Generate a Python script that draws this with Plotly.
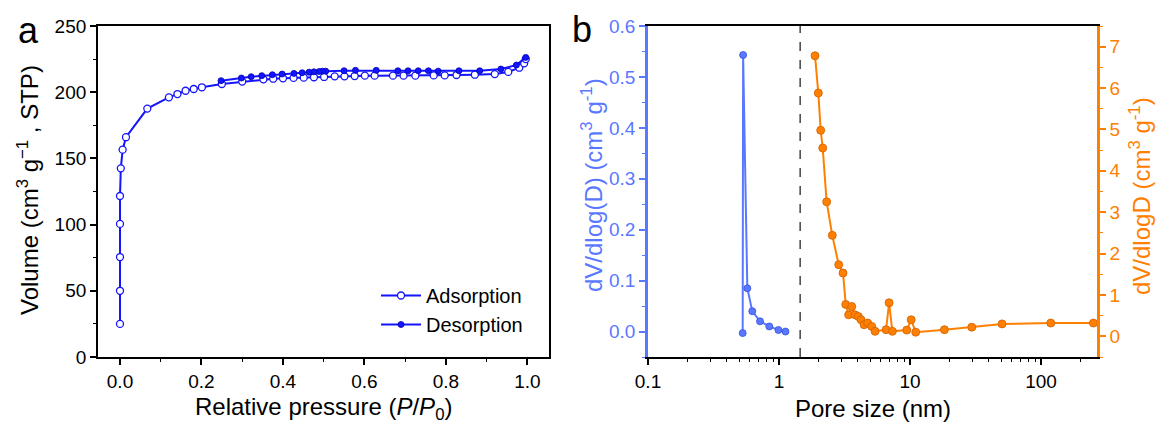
import plotly.graph_objects as go

# ---------------- Panel a: isotherm ----------------
ads_p = [0.0, 0.0, 0.0, 0.0, 0.0, 0.002, 0.0065, 0.0147, 0.067, 0.12, 0.141, 0.161, 0.181,
         0.201, 0.25, 0.30, 0.352, 0.376, 0.40, 0.426, 0.451, 0.476, 0.501, 0.527, 0.551,
         0.576, 0.601, 0.625, 0.67, 0.696, 0.725, 0.77, 0.797, 0.826, 0.871, 0.92, 0.953,
         0.98, 0.992, 0.996]
ads_v = [25, 50, 75.5, 100.5, 121.6, 142.5, 156.6, 166, 187.6, 196.1, 198.6, 201.1, 202.4,
         203.7, 206.2, 208.0, 209.7, 210.2, 210.5, 210.8, 211.0, 211.3, 211.5, 212.0, 212.0,
         212.2, 212.5, 212.5, 212.5, 212.5, 212.5, 212.7, 212.7, 213.0, 213.2, 213.7, 215.3,
         218.5, 221.8, 225.0]
des_p = [0.996, 0.973, 0.935, 0.883, 0.832, 0.781, 0.757, 0.732, 0.707, 0.682, 0.629, 0.578,
         0.55, 0.505, 0.497, 0.489, 0.476, 0.464, 0.447, 0.427, 0.398, 0.374, 0.348, 0.322,
         0.298, 0.248]
des_v = [226.3, 220.5, 217.5, 216.2, 216.2, 215.9, 216.2, 216.2, 216.2, 216.2, 216.5, 216.5,
         216.2, 215.9, 215.9, 215.6, 215.4, 215.1, 214.7, 214.2, 213.7, 213.2, 212.5, 211.7,
         210.7, 208.7]

# ---------------- Panel b: pore size distributions ----------------
micro_d = [0.528, 0.532, 0.573, 0.625, 0.716, 0.843, 0.99, 1.12]
micro_v = [-0.003, 0.543, 0.085, 0.040, 0.020, 0.010, 0.003, 0.000]
meso_d = [1.883, 1.995, 2.08, 2.156, 2.31, 2.55, 2.855, 3.08, 3.23, 3.40, 3.59, 3.80, 4.03,
          4.23, 4.46, 4.75, 5.10, 5.41, 6.56, 6.92, 7.33, 9.44, 10.2, 11.05, 18.3, 29.6,
          50.4, 118.6, 251]
meso_v = [6.78, 5.88, 4.98, 4.55, 3.25, 2.44, 1.73, 1.53, 0.77, 0.52, 0.72, 0.52, 0.48,
          0.40, 0.28, 0.32, 0.24, 0.12, 0.16, 0.81, 0.12, 0.15, 0.40, 0.10, 0.16, 0.22,
          0.30, 0.32, 0.32]
divider_d = [1.45]

BLUE = "#1414ff"
LBLUE = "#5a78ff"
ORANGE = "#ff8000"
FONT = "Liberation Sans, Arial, sans-serif"

W, H = 1159, 429
def px(x):
    return x / W
def py(y):
    return 1 - y / H

TICK = 19
TITLE = 24

fig = go.Figure()

fig.add_trace(go.Scatter(x=ads_p, y=ads_v, mode="lines+markers", name="Adsorption",
                         line=dict(color=BLUE, width=2),
                         marker=dict(symbol="circle", size=7, color="white",
                                     line=dict(color=BLUE, width=1.3)),
                         xaxis="x", yaxis="y"))
fig.add_trace(go.Scatter(x=des_p, y=des_v, mode="lines+markers", name="Desorption",
                         line=dict(color=BLUE, width=2),
                         marker=dict(symbol="circle", size=6, color=BLUE,
                                     line=dict(color="#0000b0", width=0.8)),
                         xaxis="x", yaxis="y"))

fig.add_trace(go.Scatter(x=micro_d, y=micro_v, mode="lines+markers", showlegend=False,
                         line=dict(color=LBLUE, width=2),
                         marker=dict(size=7, color=LBLUE, line=dict(color="#3350e0", width=0.8)),
                         xaxis="x2", yaxis="y3"))
fig.add_trace(go.Scatter(x=meso_d, y=meso_v, mode="lines+markers", showlegend=False,
                         line=dict(color=ORANGE, width=2),
                         marker=dict(size=8, color=ORANGE, line=dict(color="#d06000", width=0.8)),
                         xaxis="x2", yaxis="y4"))

for d in divider_d:
    fig.add_shape(type="line", xref="x2", yref="paper", x0=d, x1=d,
                  y0=py(357), y1=py(26), line=dict(color="#444444", width=1.5, dash="dash"))

tickfont = dict(family=FONT, size=TICK, color="black")
titlefont = dict(family=FONT, size=TITLE, color="black")

dom_y = [py(357), py(26)]

fig.update_layout(
    width=W, height=H, margin=dict(l=0, r=0, t=0, b=0, autoexpand=False),
    paper_bgcolor="white", plot_bgcolor="white",
    font=dict(family=FONT),
    showlegend=True,
    legend=dict(x=px(376), y=py(276), xanchor="left", yanchor="top",
                bgcolor="rgba(0,0,0,0)", font=dict(family=FONT, size=20, color="black"),
                itemwidth=40, tracegroupgap=0),
    xaxis=dict(domain=[px(98), px(549)], range=[-0.054, 1.053], tickvals=[0, 0.2, 0.4, 0.6, 0.8, 1.0],
               ticktext=["0.0", "0.2", "0.4", "0.6", "0.8", "1.0"],
               ticks="outside", ticklen=6, tickwidth=1.5, tickcolor="black",
               minor=dict(ticks="outside", ticklen=3, tickwidth=1.2, tickcolor="black",
                          tickvals=[0.1, 0.3, 0.5, 0.7, 0.9]),
               showline=True, linecolor="black", linewidth=1.8, mirror=True,
               showgrid=False, zeroline=False, tickfont=tickfont, automargin=False,
               anchor="y"),
    yaxis=dict(domain=dom_y, range=[0, 250], dtick=50,
               ticks="outside", ticklen=6, tickwidth=1.5, tickcolor="black",
               minor=dict(ticks="outside", ticklen=3, tickwidth=1.2, tickcolor="black", dtick=25),
               showline=True, linecolor="black", linewidth=1.8, mirror=True,
               showgrid=False, zeroline=False, tickfont=tickfont, automargin=False,
               anchor="x"),
    xaxis2=dict(domain=[px(648), px(1097)], type="log", range=[-1, 2.427],
                tickvals=[0.1, 1, 10, 100], ticktext=["0.1", "1", "10", "100"],
                ticks="outside", ticklen=6, tickwidth=1.5, tickcolor="black",
                minor=dict(ticks="outside", ticklen=3, tickwidth=1.2, tickcolor="black",
                           tickvals=[0.2, 0.3, 0.4, 0.5, 0.6, 0.7, 0.8, 0.9,
                                     2, 3, 4, 5, 6, 7, 8, 9,
                                     20, 30, 40, 50, 60, 70, 80, 90, 200]),
                showline=True, linecolor="black", linewidth=1.8, mirror=True,
                showgrid=False, zeroline=False, tickfont=tickfont, automargin=False,
                anchor="y3"),
    yaxis3=dict(domain=dom_y, range=[-0.05, 0.6], dtick=0.1, tickformat=".1f",
                ticks="outside", ticklen=6, tickwidth=1.5, tickcolor=LBLUE,
                minor=dict(ticks="outside", ticklen=3, tickwidth=1.2, tickcolor=LBLUE, dtick=0.05),
                showline=True, linecolor=LBLUE, linewidth=2.5,
                showgrid=False, zeroline=False, automargin=False,
                tickfont=dict(family=FONT, size=TICK, color=LBLUE),
                anchor="x2"),
    yaxis4=dict(domain=dom_y, range=[-0.5, 7.5], dtick=1, overlaying="y3", side="right",
                ticks="outside", ticklen=6, tickwidth=1.5, tickcolor=ORANGE,
                minor=dict(ticks="outside", ticklen=3, tickwidth=1.2, tickcolor=ORANGE, dtick=0.5),
                showline=True, linecolor=ORANGE, linewidth=2.5,
                showgrid=False, zeroline=False, automargin=False,
                tickfont=dict(family=FONT, size=TICK, color=ORANGE),
                anchor="x2"),
)

def title(text, x, y, color="black", angle=0):
    fig.add_annotation(text=text, textangle=angle, x=px(x), y=py(y), xref="paper", yref="paper",
                       xanchor="center", yanchor="middle", showarrow=False,
                       font=dict(family=FONT, size=TITLE, color=color))

title("Relative pressure (<i>P</i>/<i>P</i><sub>0</sub>)", 323, 408)
title("Volume (cm<sup>3</sup> g<sup>−1</sup> , STP)", 28, 190, angle=-90)
title("Pore size (nm)", 873, 408)
title("dV/dlog(D) (cm<sup>3</sup> g<sup>-1</sup>)", 592, 185, color=LBLUE, angle=-90)
title("dV/dlogD (cm<sup>3</sup> g<sup>-1</sup>)", 1140, 196, color=ORANGE, angle=-90)

fig.add_annotation(text="a", x=px(28), y=py(31), xref="paper", yref="paper",
                   xanchor="center", yanchor="middle",
                   showarrow=False, font=dict(family=FONT, size=36, color="black"))
fig.add_annotation(text="b", x=px(582), y=py(29), xref="paper", yref="paper",
                   xanchor="center", yanchor="middle",
                   showarrow=False, font=dict(family=FONT, size=36, color="black"))

fig.write_html("out.html", config={"displayModeBar": False},
               post_script="document.body.style.margin='0';document.body.style.overflow='hidden';")
